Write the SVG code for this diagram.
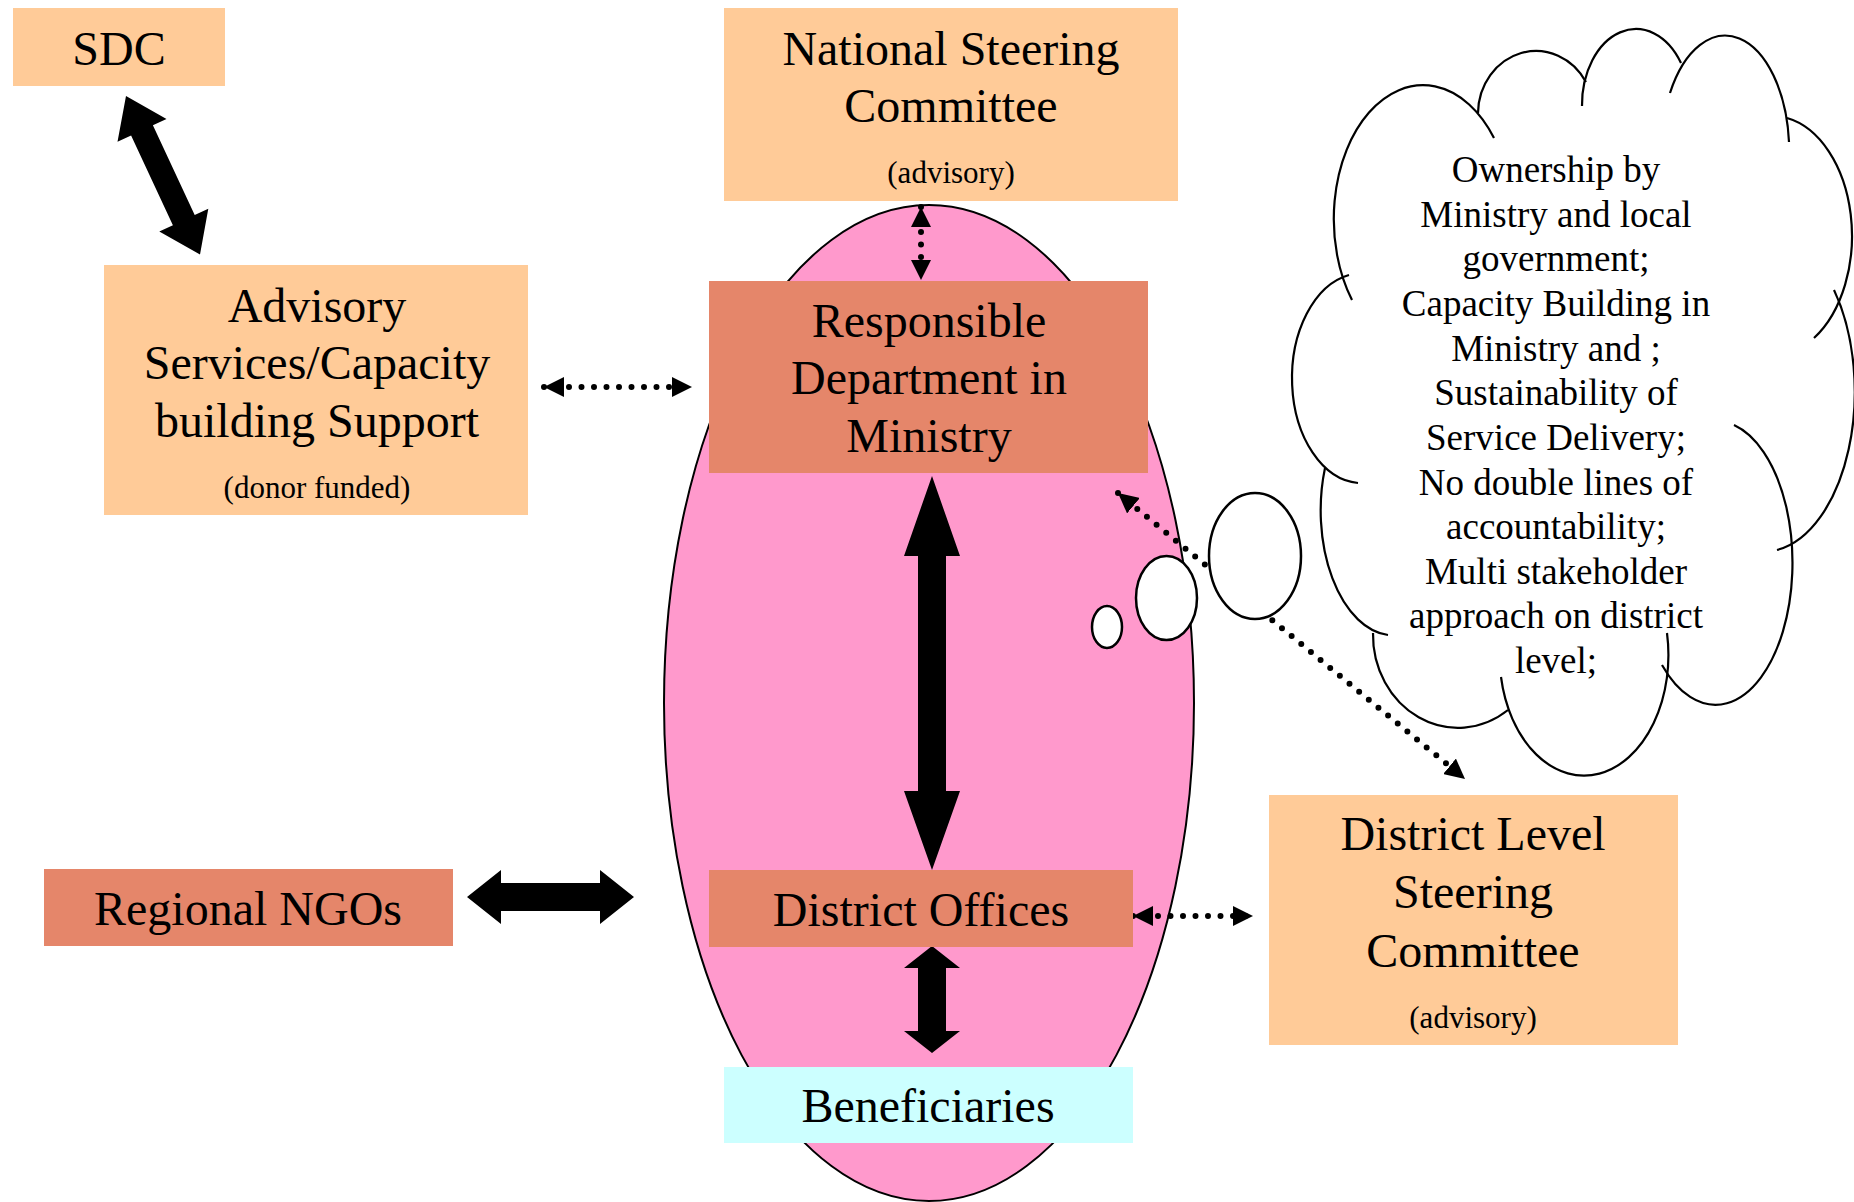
<svg xmlns="http://www.w3.org/2000/svg" width="1854" height="1202" viewBox="0 0 1854 1202">
<defs>
<style>
text{font-family:"Liberation Serif","Times New Roman",serif;fill:#000;text-anchor:middle}
.big{font-size:48px}
.small{font-size:31px}
.cloudtxt{font-size:37px}
.peach{fill:#FFCB98}
.salmon{fill:#E5866A}
.cyan{fill:#CCFFFF}
.dot{fill:none;stroke:#000;stroke-width:6;stroke-linecap:round;stroke-dasharray:0 12.5}
.fat{fill:#000}
.cl{fill:none;stroke:#000;stroke-width:2.2}
.bub{fill:#fff;stroke:#000;stroke-width:2.5}
</style>
<marker id="hd" viewBox="0 0 20 20" refX="20" refY="10" markerWidth="20" markerHeight="20" markerUnits="userSpaceOnUse" orient="auto-start-reverse">
<path d="M0,0 L20,10 L0,20 z" fill="#000"/>
</marker>
</defs>
<rect width="1854" height="1202" fill="#fff"/>

<g id="ellipse">
<ellipse cx="929" cy="703" rx="265" ry="498" fill="#FF99CC" stroke="#000" stroke-width="2"/>
</g>

<g id="connectors">
<polygon class="fat" points="126,96 166.5,119 152.9,125.3 194.7,215 208.3,208.7 200,254.6 159.3,231.5 172.9,225.2 131.1,135.5 117.5,141.8"/>
<polygon class="fat" points="932,476 960,556 946,556 946,791 960,791 932,870 904,791 918,791 918,556 904,556"/>
<polygon class="fat" points="932,946 960,968 946,968 946,1031 960,1031 932,1053 904,1031 918,1031 918,968 904,968"/>
<polygon class="fat" points="467,897 501,870 501,883 600,883 600,870 634,897 600,924 600,911 501,911 501,924"/>
<line class="dot" x1="544" y1="387" x2="692" y2="387" marker-start="url(#hd)" marker-end="url(#hd)"/>
<line class="dot" x1="921" y1="207" x2="921" y2="280" marker-start="url(#hd)" marker-end="url(#hd)"/>
<line class="dot" x1="1133" y1="916" x2="1253" y2="916" marker-start="url(#hd)" marker-end="url(#hd)"/>
<line class="dot" x1="1118" y1="493" x2="1465" y2="779" marker-start="url(#hd)" marker-end="url(#hd)"/>
</g>

<g id="sdc">
<rect class="peach" x="13" y="8" width="212" height="78"/>
<text class="big" x="119" y="65">SDC</text>
</g>

<g id="advisory">
<rect class="peach" x="104" y="265" width="424" height="250"/>
<text class="big" x="317" y="322">Advisory</text>
<text class="big" x="317" y="379">Services/Capacity</text>
<text class="big" x="317" y="437">building Support</text>
<text class="small" x="317" y="498">(donor funded)</text>
</g>

<g id="national">
<rect class="peach" x="724" y="8" width="454" height="193"/>
<text class="big" x="951" y="65">National Steering</text>
<text class="big" x="951" y="122">Committee</text>
<text class="small" x="951" y="183">(advisory)</text>
</g>

<g id="ministry">
<rect class="salmon" x="709" y="281" width="439" height="192"/>
<text class="big" x="929" y="337">Responsible</text>
<text class="big" x="929" y="394">Department in</text>
<text class="big" x="929" y="452">Ministry</text>
</g>

<g id="regional">
<rect class="salmon" x="44" y="869" width="409" height="77"/>
<text class="big" x="248" y="925">Regional NGOs</text>
</g>

<g id="district">
<rect class="salmon" x="709" y="870" width="424" height="77"/>
<text class="big" x="921" y="926">District Offices</text>
</g>

<g id="beneficiaries">
<rect class="cyan" x="724" y="1067" width="409" height="76"/>
<text class="big" x="928" y="1122">Beneficiaries</text>
</g>

<g id="dlsc">
<rect class="peach" x="1269" y="795" width="409" height="250"/>
<text class="big" x="1473" y="850">District Level</text>
<text class="big" x="1473" y="908">Steering</text>
<text class="big" x="1473" y="967">Committee</text>
<text class="small" x="1473" y="1028">(advisory)</text>
</g>

<g id="cloud">
<path class="cl" d="M1352 300 A88 132 0 0 1 1494 138"/>
<path class="cl" d="M1478 113 A58 63 0 0 1 1586 82"/>
<path class="cl" d="M1582 106 A54 76 0 0 1 1681 63"/>
<path class="cl" d="M1670 93 A64 116 0 0 1 1789 142"/>
<path class="cl" d="M1787 118 A80 120 0 0 1 1814 338"/>
<path class="cl" d="M1834 290 A91 160 0 0 1 1777 550"/>
<path class="cl" d="M1734 425 A77 142 0 1 1 1662 665"/>
<path class="cl" d="M1667 633 A84 120 0 0 1 1501 677"/>
<path class="cl" d="M1508 710 A85 93 0 0 1 1373 633"/>
<path class="cl" d="M1388 635 A73 125 0 0 1 1325 468"/>
<path class="cl" d="M1358 483 A70 105 0 0 1 1349 275"/>
<ellipse class="bub" cx="1255" cy="556" rx="46" ry="63"/>
<ellipse class="bub" cx="1166.5" cy="598" rx="30.5" ry="42"/>
<ellipse class="bub" cx="1107" cy="627" rx="15" ry="21"/>
<text class="cloudtxt" x="1556" y="182">Ownership by</text>
<text class="cloudtxt" x="1556" y="227">Ministry and local</text>
<text class="cloudtxt" x="1556" y="271">government;</text>
<text class="cloudtxt" x="1556" y="316">Capacity Building in</text>
<text class="cloudtxt" x="1556" y="361">Ministry and ;</text>
<text class="cloudtxt" x="1556" y="405">Sustainability of</text>
<text class="cloudtxt" x="1556" y="450">Service Delivery;</text>
<text class="cloudtxt" x="1556" y="495">No double lines of</text>
<text class="cloudtxt" x="1556" y="539">accountability;</text>
<text class="cloudtxt" x="1556" y="584">Multi stakeholder</text>
<text class="cloudtxt" x="1556" y="628">approach on district</text>
<text class="cloudtxt" x="1556" y="673">level;</text>
</g>
</svg>
